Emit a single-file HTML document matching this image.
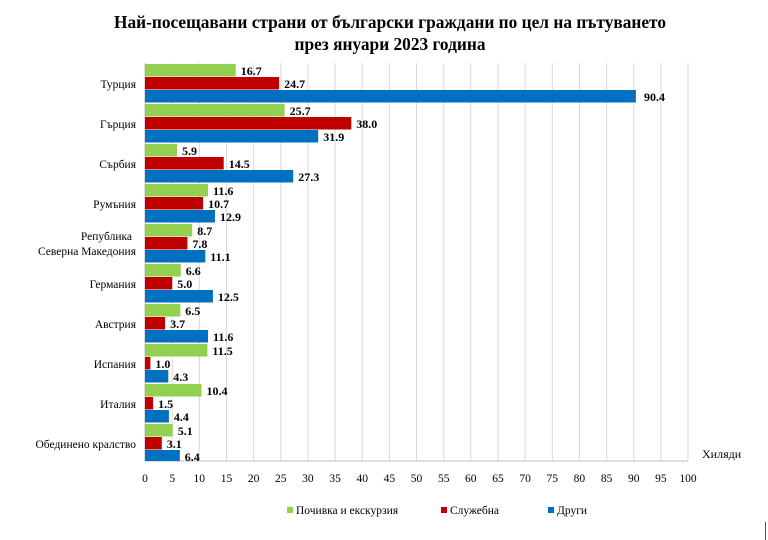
<!DOCTYPE html>
<html><head><meta charset="utf-8"><style>
html,body{margin:0;padding:0;background:#fff;}
svg{display:block;font-family:"Liberation Serif","DejaVu Serif",serif;}
.v{font-weight:bold;font-size:12px;fill:#000;}
.c{font-size:11.5px;fill:#000;text-anchor:end;}
.t{font-size:11.5px;fill:#000;text-anchor:middle;}
</style></head><body>
<svg width="768" height="540" viewBox="0 0 768 540" xmlns="http://www.w3.org/2000/svg">
<text x="390" y="28" text-anchor="middle" font-weight="bold" font-size="18" textLength="552" lengthAdjust="spacingAndGlyphs">Най-посещавани страни от български граждани по цел на пътуването</text>
<text x="390" y="50" text-anchor="middle" font-weight="bold" font-size="18" textLength="191" lengthAdjust="spacingAndGlyphs">през януари 2023 година</text>
<g stroke="#d9d9d9" stroke-width="1">
<line x1="172.2" y1="63" x2="172.2" y2="461"/><line x1="199.3" y1="63" x2="199.3" y2="461"/><line x1="226.5" y1="63" x2="226.5" y2="461"/><line x1="253.6" y1="63" x2="253.6" y2="461"/><line x1="280.8" y1="63" x2="280.8" y2="461"/><line x1="307.9" y1="63" x2="307.9" y2="461"/><line x1="335.1" y1="63" x2="335.1" y2="461"/><line x1="362.2" y1="63" x2="362.2" y2="461"/><line x1="389.4" y1="63" x2="389.4" y2="461"/><line x1="416.5" y1="63" x2="416.5" y2="461"/><line x1="443.7" y1="63" x2="443.7" y2="461"/><line x1="470.8" y1="63" x2="470.8" y2="461"/><line x1="498" y1="63" x2="498" y2="461"/><line x1="525.1" y1="63" x2="525.1" y2="461"/><line x1="552.3" y1="63" x2="552.3" y2="461"/><line x1="579.4" y1="63" x2="579.4" y2="461"/><line x1="606.6" y1="63" x2="606.6" y2="461"/><line x1="633.7" y1="63" x2="633.7" y2="461"/><line x1="660.9" y1="63" x2="660.9" y2="461"/><line x1="688" y1="63" x2="688" y2="461"/>
</g>
<line x1="145" y1="461" x2="688" y2="461" stroke="#bfbfbf"/>
<line x1="145" y1="63" x2="145" y2="461" stroke="#bfbfbf"/>
<g class="t">
<text x="145" y="482">0</text><text x="172.2" y="482">5</text><text x="199.3" y="482">10</text><text x="226.5" y="482">15</text><text x="253.6" y="482">20</text><text x="280.8" y="482">25</text><text x="307.9" y="482">30</text><text x="335.1" y="482">35</text><text x="362.2" y="482">40</text><text x="389.4" y="482">45</text><text x="416.5" y="482">50</text><text x="443.7" y="482">55</text><text x="470.8" y="482">60</text><text x="498" y="482">65</text><text x="525.1" y="482">70</text><text x="552.3" y="482">75</text><text x="579.4" y="482">80</text><text x="606.6" y="482">85</text><text x="633.7" y="482">90</text><text x="660.9" y="482">95</text><text x="688" y="482">100</text>
</g>
<text x="702" y="458" font-size="12">Хиляди</text>
<g class="c">
<text x="136" y="88">Турция</text>
<text x="136" y="128">Гърция</text>
<text x="136" y="168">Сърбия</text>
<text x="136" y="208">Румъния</text>
<text x="132" y="240">Република</text>
<text x="136" y="255">Северна Македония</text>
<text x="136" y="288">Германия</text>
<text x="136" y="328">Австрия</text>
<text x="136" y="368">Испания</text>
<text x="136" y="408">Италия</text>
<text x="136" y="448">Обединено кралство</text>
</g>
<g>
<rect x="145" y="64" width="90.7" height="12.5" fill="#92d050"/><rect x="145" y="77" width="134.1" height="12.5" fill="#c00000"/><rect x="145" y="90" width="490.9" height="12.5" fill="#0070c0"/>
<rect x="145" y="104" width="139.6" height="12.5" fill="#92d050"/><rect x="145" y="117" width="206.3" height="12.5" fill="#c00000"/><rect x="145" y="130" width="173.2" height="12.5" fill="#0070c0"/>
<rect x="145" y="144" width="32" height="12.5" fill="#92d050"/><rect x="145" y="157" width="78.7" height="12.5" fill="#c00000"/><rect x="145" y="170" width="148.2" height="12.5" fill="#0070c0"/>
<rect x="145" y="184" width="63" height="12.5" fill="#92d050"/><rect x="145" y="197" width="58.1" height="12.5" fill="#c00000"/><rect x="145" y="210" width="70" height="12.5" fill="#0070c0"/>
<rect x="145" y="224" width="47.2" height="12.5" fill="#92d050"/><rect x="145" y="237" width="42.4" height="12.5" fill="#c00000"/><rect x="145" y="250" width="60.3" height="12.5" fill="#0070c0"/>
<rect x="145" y="264" width="35.8" height="12.5" fill="#92d050"/><rect x="145" y="277" width="27.2" height="12.5" fill="#c00000"/><rect x="145" y="290" width="67.9" height="12.5" fill="#0070c0"/>
<rect x="145" y="304" width="35.3" height="12.5" fill="#92d050"/><rect x="145" y="317" width="20.1" height="12.5" fill="#c00000"/><rect x="145" y="330" width="63" height="12.5" fill="#0070c0"/>
<rect x="145" y="344" width="62.4" height="12.5" fill="#92d050"/><rect x="145" y="357" width="5.4" height="12.5" fill="#c00000"/><rect x="145" y="370" width="23.3" height="12.5" fill="#0070c0"/>
<rect x="145" y="384" width="56.5" height="12.5" fill="#92d050"/><rect x="145" y="397" width="8.1" height="12.5" fill="#c00000"/><rect x="145" y="410" width="23.9" height="12.5" fill="#0070c0"/>
<rect x="145" y="424" width="27.7" height="12.5" fill="#92d050"/><rect x="145" y="437" width="16.8" height="12.5" fill="#c00000"/><rect x="145" y="450" width="34.8" height="11" fill="#0070c0"/>
</g>
<g class="v">
<text x="240.7" y="75">16.7</text><text x="284.1" y="88">24.7</text><text x="644" y="101">90.4</text>
<text x="289.6" y="115">25.7</text><text x="356.3" y="128">38.0</text><text x="323.2" y="141">31.9</text>
<text x="182" y="155">5.9</text><text x="228.7" y="168">14.5</text><text x="298.2" y="181">27.3</text>
<text x="213" y="195">11.6</text><text x="208.1" y="208">10.7</text><text x="220" y="221">12.9</text>
<text x="197.2" y="235">8.7</text><text x="192.4" y="248">7.8</text><text x="210.3" y="261">11.1</text>
<text x="185.8" y="275">6.6</text><text x="177.2" y="288">5.0</text><text x="217.9" y="301">12.5</text>
<text x="185.3" y="315">6.5</text><text x="170.1" y="328">3.7</text><text x="213" y="341">11.6</text>
<text x="212.4" y="355">11.5</text><text x="155.4" y="368">1.0</text><text x="173.3" y="381">4.3</text>
<text x="206.5" y="395">10.4</text><text x="158.1" y="408">1.5</text><text x="173.9" y="421">4.4</text>
<text x="177.7" y="435">5.1</text><text x="166.8" y="448">3.1</text><text x="184.8" y="461">6.4</text>
</g>
<rect x="287" y="507" width="6" height="6" fill="#92d050"/><text x="296" y="514" font-size="11.5">Почивка и екскурзия</text>
<rect x="441" y="507" width="6" height="6" fill="#c00000"/><text x="450" y="514" font-size="11.5">Служебна</text>
<rect x="548" y="507" width="6" height="6" fill="#0070c0"/><text x="557" y="514" font-size="11.5">Други</text>
<line x1="765.5" y1="522" x2="765.5" y2="540" stroke="#555"/>
</svg>
</body></html>
